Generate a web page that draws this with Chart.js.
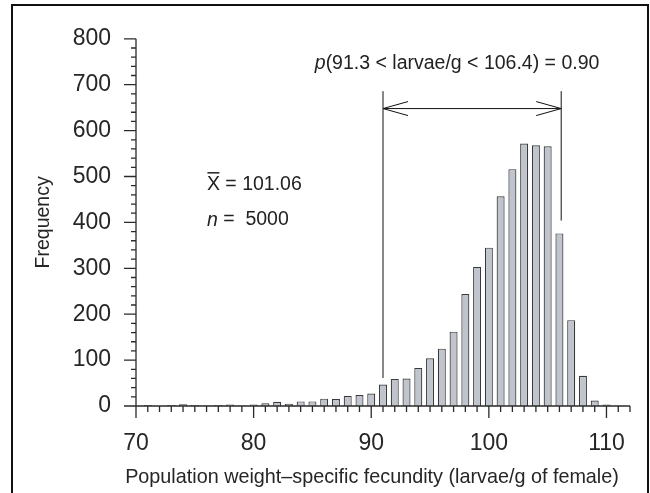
<!DOCTYPE html>
<html>
<head>
<meta charset="utf-8">
<script src="https://cdn.jsdelivr.net/npm/chart.js@4.4.0/dist/chart.umd.min.js"></script>
<style>
  body { margin: 0; background: #fff; }
  #wrap { width: 650px; height: 493px; }
</style>
</head>
<body>
<div id="wrap"><canvas id="histChart" width="650" height="493"></canvas></div>
<script>
// classes (larvae/g) and counts
const classes = [71, 72, 73, 74, 75, 76, 77, 78, 79, 80,
                 81, 82, 83, 84, 85, 86, 87, 88, 89, 90,
                 91, 92, 93, 94, 95, 96, 97, 98, 99, 100,
                 101, 102, 103, 104, 105, 106, 107, 108, 109, 110];
const counts = [2, 0, 2, 4, 2, 1, 2, 3, 1, 3,
                6, 9, 5, 10, 10, 16, 15, 22, 24, 27,
                47, 59, 60, 83, 104, 125, 162, 244, 303, 345,
                457, 516, 572, 568, 566, 376, 187, 66, 12, 3];

const xTickValues = [70, 80, 90, 100, 110];
const yTickValues = [0, 100, 200, 300, 400, 500, 600, 700, 800];

// 90% interval bracket, as drawn
const bracketLeft = 91.0;
const bracketRight = 106.15;
const bracketTop = 686;
const bracketLeftBottom = 61;
const bracketRightBottom = 404;
const arrowLevel = 648;

const meanText = '101.06';
const nText = '5000';
const intervalText = '(91.3 < larvae/g < 106.4) = 0.90';
const xTitle = 'Population weight\u2013specific fecundity (larvae/g of female)';

const FONT = '"Liberation Sans", Arial, sans-serif';

const extras = {
  id: 'extras',
  afterDraw(chart) {
    const { ctx, scales: { x, y } } = chart;
    ctx.save();

    // frame
    ctx.strokeStyle = '#111';
    ctx.lineWidth = 2;
    ctx.beginPath();
    ctx.moveTo(12, 493);
    ctx.lineTo(12, 5);
    ctx.lineTo(648, 5);
    ctx.lineTo(648, 493);
    ctx.stroke();

    // axes
    ctx.strokeStyle = '#2a2a2a';
    ctx.lineWidth = 1.3;
    const x0 = x.getPixelForValue(70);
    const y0 = y.getPixelForValue(0);
    ctx.beginPath();
    ctx.moveTo(x0, y.getPixelForValue(800));
    ctx.lineTo(x0, y0);
    ctx.moveTo(x0, y0);
    ctx.lineTo(x.getPixelForValue(112), y0);
    // y ticks, major 100 minor 20
    for (let v = 0; v <= 800; v += 20) {
      const py = y.getPixelForValue(v);
      const len = v % 100 === 0 ? 12 : 5;
      ctx.moveTo(x0, py);
      ctx.lineTo(x0 - len, py);
    }
    // x ticks, major 10 minor 1
    for (let v = 70; v <= 112; v++) {
      const px = x.getPixelForValue(v);
      const len = v % 10 === 0 ? 12 : 6;
      ctx.moveTo(px, y0);
      ctx.lineTo(px, y0 + len);
    }
    ctx.stroke();

    // bracket
    ctx.strokeStyle = '#111';
    ctx.lineWidth = 1;
    const bl = x.getPixelForValue(bracketLeft);
    const br = x.getPixelForValue(bracketRight);
    const bt = y.getPixelForValue(bracketTop);
    const ay = y.getPixelForValue(arrowLevel);
    ctx.beginPath();
    ctx.moveTo(bl, y.getPixelForValue(bracketLeftBottom));
    ctx.lineTo(bl, bt);
    ctx.moveTo(br, y.getPixelForValue(bracketRightBottom));
    ctx.lineTo(br, bt);
    ctx.moveTo(bl, ay);
    ctx.lineTo(br, ay);
    ctx.moveTo(bl + 25, ay - 7);
    ctx.lineTo(bl, ay);
    ctx.lineTo(bl + 25, ay + 7);
    ctx.moveTo(br - 25, ay - 7);
    ctx.lineTo(br, ay);
    ctx.lineTo(br - 25, ay + 7);
    ctx.stroke();

    // texts
    ctx.fillStyle = '#222';
    ctx.textBaseline = 'middle';
    ctx.textAlign = 'left';

    // p(...)
    let tx = x.getPixelForValue(85.2);
    let ty = y.getPixelForValue(747);
    ctx.font = 'italic 19.5px ' + FONT;
    ctx.fillText('p', tx, ty);
    tx += ctx.measureText('p').width;
    ctx.font = '19.5px ' + FONT;
    ctx.fillText(intervalText, tx, ty);

    // mean
    tx = x.getPixelForValue(76.03);
    ty = y.getPixelForValue(483);
    ctx.font = '19.5px ' + FONT;
    ctx.fillText('X = ' + meanText, tx, ty);
    const xw = ctx.measureText('X').width;
    ctx.strokeStyle = '#222';
    ctx.lineWidth = 1.5;
    ctx.beginPath();
    ctx.moveTo(tx + 0.5, ty - 11.5);
    ctx.lineTo(tx + xw - 0.5, ty - 11.5);
    ctx.stroke();

    // n
    ty = y.getPixelForValue(405);
    ctx.font = 'italic 19.5px ' + FONT;
    ctx.fillText('n', tx, ty);
    const nw = ctx.measureText('n').width;
    ctx.font = '19.5px ' + FONT;
    ctx.fillText(' =  ' + nText, tx + nw, ty);

    // x axis title (sits a bit left of the plot centre in the original)
    ctx.textAlign = 'center';
    ctx.fillStyle = '#262626';
    ctx.font = '19.8px ' + FONT;
    ctx.fillText(xTitle, 372, 478);

    ctx.restore();
  }
};

const ctx = document.getElementById('histChart').getContext('2d');
const histChart = new Chart(ctx, {
  type: 'bar',
  data: {
    datasets: [{
      data: classes.map((c, i) => ({ x: c, y: counts[i] })),
      backgroundColor: '#c0c5cd',
      borderColor: '#3a3a3a',
      borderWidth: 1.2,
      barPercentage: 0.68,
      categoryPercentage: 1.0
    }]
  },
  options: {
    responsive: false,
    animation: false,
    layout: { padding: { left: 0, top: 38.5, right: 20, bottom: 0 } },
    plugins: { legend: { display: false }, tooltip: { enabled: false } },
    scales: {
      x: {
        type: 'linear',
        min: 70,
        max: 112,
        offset: false,
        grid: { display: false, drawTicks: false, offset: false },
        border: { display: false },
        afterFit(scale) { scale.height = 87; },
        afterBuildTicks(scale) { scale.ticks = xTickValues.map(v => ({ value: v })); },
        ticks: {
          padding: 24,
          maxRotation: 0,
          autoSkip: false,
          color: '#262626',
          font: { family: FONT, size: 23 }
        },
        title: { display: false }
      },
      y: {
        min: 0,
        max: 800,
        grid: { display: false, drawTicks: false },
        border: { display: false },
        afterFit(scale) { scale.width = 136; },
        afterBuildTicks(scale) { scale.ticks = yTickValues.map(v => ({ value: v })); },
        ticks: {
          padding: 25,
          color: '#262626',
          font: { family: FONT, size: 23 }
        },
        title: {
          display: true,
          text: 'Frequency',
          color: '#262626',
          font: { family: FONT, size: 19.5 },
          padding: { top: 32.3, bottom: 0 }
        }
      }
    }
  },
  plugins: [extras]
});
</script>
</body>
</html>
